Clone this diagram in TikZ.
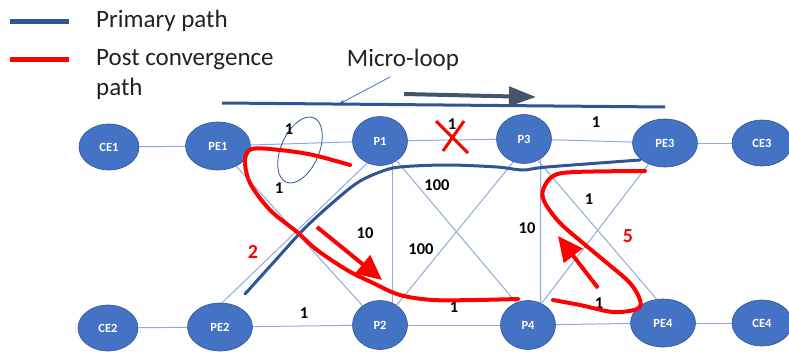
\documentclass[tikz,border=0pt]{standalone}
\usepackage{fontspec}
\setmainfont{Carlito}
\usetikzlibrary{shapes.geometric,arrows.meta}
\definecolor{nodefill}{HTML}{4472C4}
\definecolor{nodeedge}{HTML}{2F528F}
\definecolor{linkblue}{HTML}{8FAADC}
\definecolor{primblue}{HTML}{2F5597}
\definecolor{slate}{HTML}{44546A}
\definecolor{pcred}{HTML}{FF0000}
\definecolor{txt}{HTML}{222222}
\begin{document}
\begin{tikzpicture}[x=1pt,y=-1pt,
  router/.style={ellipse, fill=nodefill, draw=nodeedge, line width=0.6pt, inner sep=0pt,
    text=white, font=\fontsize{12.5}{12.5}\selectfont\bfseries},
  cenode/.style={router, minimum width=60pt, minimum height=46pt},
  penode/.style={router, minimum width=65pt, minimum height=48pt},
  pnode/.style={router, minimum width=55pt, minimum height=49pt},
  link/.style={draw=linkblue, line width=1pt},
  wlabel/.style={font=\fontsize{16.5}{16.5}\selectfont\bfseries, text=black, inner sep=0pt},
  redlabel/.style={font=\fontsize{20}{20}\selectfont\bfseries, text=pcred, inner sep=0pt},
  legendtext/.style={font=\fontsize{25}{25}\selectfont, text=txt, inner sep=0pt},
  primpath/.style={draw=primblue, line width=3pt, line cap=round},
  pcpath/.style={draw=pcred, line width=4pt, line cap=round, line join=round},
  redarrow/.style={draw=pcred, fill=pcred, line width=4pt, -{Triangle[length=25pt,width=23pt]}},
]
\useasboundingbox (0,0) rectangle (789,351);

% legend
\coordinate (lgBa) at (10,21); \coordinate (lgBb) at (69,21);
\coordinate (lgRa) at (10,59); \coordinate (lgRb) at (69,59);
\draw[primpath, line width=5pt, line cap=butt] (lgBa) -- (lgBb);
\draw[pcpath, line width=5pt, line cap=butt] (lgRa) -- (lgRb);
\node[legendtext, anchor=base west] (legPrim) at (96,27) {Primary path};
\node[legendtext, anchor=base west] (legPost) at (96,65) {Post convergence};
\node[legendtext, anchor=base west] (legPath) at (96,95) {path};

% micro-loop annotation
\node[legendtext, anchor=base] (mlText) at (403,66) {Micro-loop};
\coordinate (mlTail) at (390,77); \coordinate (mlHead) at (339,104);
\draw[draw=nodefill, line width=0.8pt, -{Stealth[length=6pt,width=4pt]}] (mlTail) -- (mlHead);
\coordinate (mlL) at (222,103); \coordinate (mlR) at (665,107);
\draw[primpath, line cap=butt] (mlL) -- (mlR);
\coordinate (maA) at (404,94); \coordinate (maB) at (536,97);
\draw[draw=slate, fill=slate, line width=4pt, -{Triangle[length=27pt,width=19pt]}] (maA) -- (maB);

% nodes
\node[cenode] (CE1) at (109,147) {CE1};
\node[penode] (PE1) at (218,146) {PE1};
\node[pnode]  (P1)  at (380,141) {P1};
\node[pnode]  (P3)  at (524,139) {P3};
\node[penode] (PE3) at (665,143) {PE3};
\node[cenode] (CE3) at (762,143) {CE3};
\node[cenode] (CE2) at (108,328) {CE2};
\node[penode] (PE2) at (220,327) {PE2};
\node[pnode]  (P2)  at (380,325) {P2};
\node[pnode]  (P4)  at (528,325) {P4};
\node[penode] (PE4) at (663,323) {PE4};
\node[cenode] (CE4) at (762,323) {CE4};

% links
\draw[link] (CE1) -- (PE1);
\draw[link] (PE1) -- (P1);
\draw[link] (P1) -- (P3);
\draw[link] (P3) -- (PE3);
\draw[link] (PE3) -- (CE3);
\draw[link] (CE2) -- (PE2);
\draw[link] (PE2) -- (P2);
\draw[link] (P2) -- (P4);
\draw[link] (P4) -- (PE4);
\draw[link] (PE4) -- (CE4);
\draw[link] (PE1) -- (P2);
\draw[link] (PE2.85) -- (P1.-120);
\draw[link] (P1.-60) -- (P2.60);
\draw[link] (P1.-50) -- (P4.118);
\draw[link] (P2.50) -- (P3.-115);
\draw[link] (P3.-50) -- (P4.60);
\draw[link] (P3.-57) -- (PE4.105);
\draw[link] (PE3.-128) -- (P4.58);

% micro-loop ellipse
\draw[draw=primblue, line width=0.8pt, rotate around={66.7:(300,150)}] (300,150) ellipse [x radius=35pt, y radius=19pt];

% X on failed link
\coordinate (xA) at (436,121); \coordinate (xB) at (468,153);
\coordinate (xC) at (464,121); \coordinate (xD) at (443,151);
\draw[draw=pcred, line width=3pt] (xA) -- (xB);
\draw[draw=pcred, line width=3pt] (xC) -- (xD);

% link labels
\node[wlabel] (w1) at (289,129) {1};
\node[wlabel] (w2) at (279,188) {1};
\node[wlabel] (w3) at (452,124) {1};
\node[wlabel] (w4) at (596,122) {1};
\node[wlabel] (w5) at (437,185) {100};
\node[wlabel] (w6) at (589,199) {1};
\node[wlabel] (w7) at (365,233) {10};
\node[wlabel] (w8) at (527,228) {10};
\node[wlabel] (w9) at (421,249) {100};
\node[wlabel] (w10) at (304,313) {1};
\node[wlabel] (w11) at (454,307) {1};
\node[wlabel] (w12) at (599,303) {1};
\node[redlabel] (r2) at (253,252) {2};
\node[redlabel] (r5) at (628,236) {5};

% primary path
\draw[primpath] plot[smooth, tension=0.55] coordinates {(245,294) (273,263) (303,230) (330,205) (357,183) (380,172) (400,167) (447,165) (497,167) (523,170) (547,167) (640,160)};

% post convergence paths
\draw[pcpath] plot[smooth, tension=0.55] coordinates {(350,165) (313,155) (280,150) (252,149) (245,160) (250,183) (270,210) (297,232) (317,250) (347,270) (373,283) (400,295) (433,300) (475,300) (518,299)};
\draw[pcpath] plot[smooth, tension=0.55] coordinates {(553,300) (580,305) (613,312) (637,309) (640,300) (630,283) (607,263) (583,243) (560,223) (545,203) (543,190) (553,176) (575,172) (645,171)};

% red arrows
\coordinate (ra1a) at (317,227); \coordinate (ra1b) at (382,280);
\draw[redarrow] (ra1a) -- (ra1b);
\coordinate (ra2a) at (598,288); \coordinate (ra2b) at (558,236);
\draw[redarrow] (ra2a) -- (ra2b);
\end{tikzpicture}
\end{document}
